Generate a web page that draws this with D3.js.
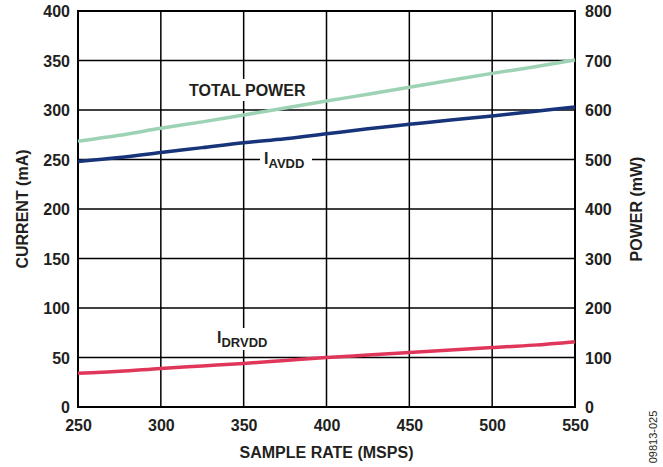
<!DOCTYPE html>
<meta charset="utf-8">
<head>
    <script src="https://d3js.org/d3.v7.min.js"></script>
    <style>
        body { margin: 0; background: #fff; }
        text { font-family: "Liberation Sans", Arial, sans-serif; font-weight: bold; fill: #231f20; }
    </style>
</head>
<body>
<div id="chart"></div>
<script>
    // sample rate (MSPS)
    const sampleRate = [250, 275, 300, 325, 350, 375, 400, 425, 450, 475, 500, 525, 550]
    // currents in mA (left axis)
    const iAvdd   = [248, 252, 257, 262, 267, 271, 276, 281, 285.5, 290, 294, 298.5, 303]
    const iDrvdd  = [34, 36, 39, 41.5, 44, 47, 50, 52.5, 55, 57.5, 60, 62.5, 66]
    // total power in mW (right axis)
    const totalPower = [537, 549, 563, 576, 590, 604, 618, 632, 646, 660, 674, 687, 701]

    const xTicks = [250, 300, 350, 400, 450, 500, 550]
    const currentTicks = [0, 50, 100, 150, 200, 250, 300, 350, 400]
    const powerTicks = [0, 100, 200, 300, 400, 500, 600, 700, 800]

    const W = 663, H = 467
    const mLeft = 78, mTop = 11, mRight = 575, mBottom = 407

    const svg = d3.select("#chart").append("svg")
        .attr("width", W)
        .attr("height", H)

    const x = d3.scaleLinear().domain([250, 550]).range([mLeft, mRight])
    const yI = d3.scaleLinear().domain([0, 400]).range([mBottom, mTop])
    const yP = d3.scaleLinear().domain([0, 800]).range([mBottom, mTop])

    // grid
    svg.append("g").selectAll("line")
        .data(xTicks)
        .join("line")
        .attr("x1", d => x(d)).attr("x2", d => x(d))
        .attr("y1", mTop).attr("y2", mBottom)
        .attr("stroke", "#000").attr("stroke-width", 1.5)
    svg.append("g").selectAll("line")
        .data(currentTicks)
        .join("line")
        .attr("x1", mLeft).attr("x2", mRight)
        .attr("y1", d => yI(d)).attr("y2", d => yI(d))
        .attr("stroke", "#000").attr("stroke-width", 1.5)

    // axes (labels only)
    const leftAxis = d3.axisLeft(yI).tickValues(currentTicks).tickSize(0).tickPadding(8)
    svg.append("g")
        .attr("transform", `translate(${mLeft},0)`)
        .call(leftAxis)
        .call(g => g.select(".domain").remove())
        .selectAll("text").style("font-size", "16px").attr("dy", "0.35em")

    const rightAxis = d3.axisRight(yP).tickValues(powerTicks).tickSize(0).tickPadding(10)
    svg.append("g")
        .attr("transform", `translate(${mRight},0)`)
        .call(rightAxis)
        .call(g => g.select(".domain").remove())
        .selectAll("text").style("font-size", "16px").attr("dy", "0.35em")

    const bottomAxis = d3.axisBottom(x).tickValues(xTicks).tickSize(0).tickPadding(13)
    svg.append("g")
        .attr("transform", `translate(0,${mBottom})`)
        .call(bottomAxis)
        .call(g => g.select(".domain").remove())
        .selectAll("text").style("font-size", "16px")

    // label backgrounds that break the grid
    const bg = [[187, 79, 124, 22], [260, 150, 52, 20], [215, 328, 58, 22]]
    svg.append("g").selectAll("rect")
        .data(bg)
        .join("rect")
        .attr("x", d => d[0]).attr("y", d => d[1])
        .attr("width", d => d[2]).attr("height", d => d[3])
        .attr("fill", "#fff")

    // frame
    svg.append("rect")
        .attr("x", mLeft).attr("y", mTop)
        .attr("width", mRight - mLeft).attr("height", mBottom - mTop)
        .attr("fill", "none").attr("stroke", "#000").attr("stroke-width", 2)

    // data lines
    const lineI = d3.line().x((d, i) => x(sampleRate[i])).y(d => yI(d)).curve(d3.curveMonotoneX)
    const lineP = d3.line().x((d, i) => x(sampleRate[i])).y(d => yP(d)).curve(d3.curveMonotoneX)

    svg.append("path").datum(totalPower)
        .attr("fill", "none").attr("stroke", "#9dd3b4").attr("stroke-width", 3.5)
        .attr("d", lineP)
    svg.append("path").datum(iAvdd)
        .attr("fill", "none").attr("stroke", "#17347a").attr("stroke-width", 3.5)
        .attr("d", lineI)
    svg.append("path").datum(iDrvdd)
        .attr("fill", "none").attr("stroke", "#e0365a").attr("stroke-width", 3.5)
        .attr("d", lineI)

    // series labels
    svg.append("text")
        .attr("x", 189).attr("y", 96)
        .style("font-size", "16px")
        .text("TOTAL POWER")

    const avdd = svg.append("text")
        .attr("x", 264).attr("y", 164)
        .style("font-size", "16px")
    avdd.append("tspan").text("I")
    avdd.append("tspan").attr("dy", 4).style("font-size", "13px").text("AVDD")

    const drvdd = svg.append("text")
        .attr("x", 217).attr("y", 343)
        .style("font-size", "16px")
    drvdd.append("tspan").text("I")
    drvdd.append("tspan").attr("dy", 4).style("font-size", "13px").text("DRVDD")

    // axis titles
    svg.append("text")
        .attr("x", (mLeft + mRight) / 2).attr("y", 458)
        .attr("text-anchor", "middle")
        .style("font-size", "16px")
        .text("SAMPLE RATE (MSPS)")

    svg.append("text")
        .attr("transform", `translate(28,${(mTop + mBottom) / 2}) rotate(-90)`)
        .attr("text-anchor", "middle")
        .style("font-size", "16px")
        .text("CURRENT (mA)")

    svg.append("text")
        .attr("transform", `translate(642,${(mTop + mBottom) / 2}) rotate(-90)`)
        .attr("text-anchor", "middle")
        .style("font-size", "16px")
        .text("POWER (mW)")

    svg.append("text")
        .attr("transform", "translate(657,437) rotate(-90)")
        .attr("text-anchor", "middle")
        .style("font-size", "11px").style("font-weight", "normal")
        .text("09813-025")
</script>
</body>
